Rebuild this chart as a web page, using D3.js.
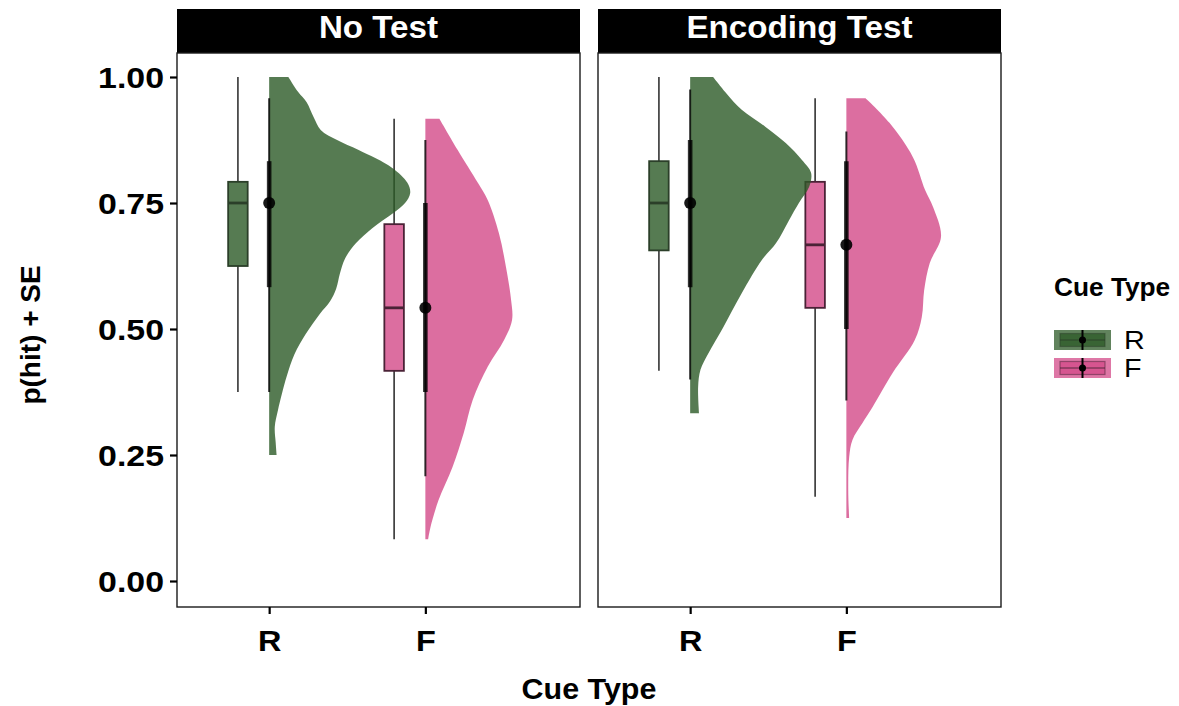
<!DOCTYPE html>
<html>
<head>
<meta charset="utf-8">
<script src="https://cdn.jsdelivr.net/npm/d3@7"></script>
<style>
  html, body { margin: 0; padding: 0; background: #fff; }
  svg { display: block; font-family: "Liberation Sans", Arial, sans-serif; }
</style>
</head>
<body>
<svg id="chart" width="1179" height="706"></svg>
<script>
// ---------------- DATA ----------------
const conditions = ["No Test", "Encoding Test"];
const cueTypes = ["R", "F"];
const yTicks = [0, 0.25, 0.5, 0.75, 1.0];
const yTickLabels = ["0.00", "0.25", "0.50", "0.75", "1.00"];

// order of groups: [No Test R, No Test F, Encoding Test R, Encoding Test F]
const groupCondition = ["No Test", "No Test", "Encoding Test", "Encoding Test"];
const groupCue = ["R", "F", "R", "F"];

const boxMin    = [0.375, 0.083, 0.417, 0.167];
const boxQ1     = [0.625, 0.417, 0.656, 0.542];
const boxMedian = [0.750, 0.542, 0.750, 0.667];
const boxQ3     = [0.792, 0.708, 0.833, 0.792];
const boxMax    = [1.000, 0.917, 1.000, 0.958];

const meanVals = [0.750, 0.542, 0.750, 0.667];
const seLow    = [0.583, 0.375, 0.583, 0.500];
const seHigh   = [0.833, 0.750, 0.875, 0.833];
const ciLow    = [0.375, 0.208, 0.400, 0.358];
const ciHigh   = [0.958, 0.875, 0.975, 0.892];

// half-violin densities: [value, density]
const densityNoTestR = [
  [1.000,0.41],[0.970,0.62],[0.950,0.80],[0.920,0.95],[0.895,1.10],[0.875,1.45],
  [0.855,1.91],[0.820,2.62],[0.790,2.95],[0.770,3.01],[0.750,2.90],[0.730,2.65],
  [0.700,2.20],[0.670,1.85],[0.640,1.62],[0.610,1.51],[0.580,1.43],[0.555,1.30],
  [0.530,1.08],[0.490,0.78],[0.450,0.54],[0.405,0.37],[0.340,0.19],[0.306,0.12],
  [0.274,0.14],[0.250,0.16]
];
const densityNoTestF = [
  [0.917,0.30],[0.855,0.69],[0.790,1.12],[0.756,1.33],[0.690,1.57],[0.623,1.72],
  [0.557,1.83],[0.518,1.85],[0.478,1.68],[0.425,1.33],[0.359,1.01],[0.294,0.82],
  [0.226,0.58],[0.160,0.28],[0.107,0.11],[0.083,0.06]
];
const densityEncodingR = [
  [1.000,0.49],[0.968,0.77],[0.935,1.10],[0.901,1.61],[0.869,2.04],[0.835,2.39],
  [0.810,2.58],[0.782,2.54],[0.750,2.32],[0.716,2.11],[0.670,1.83],[0.637,1.53],
  [0.571,1.10],[0.504,0.71],[0.452,0.39],[0.419,0.22],[0.385,0.17],[0.333,0.19]
];
const densityEncodingF = [
  [0.958,0.41],[0.909,0.92],[0.841,1.42],[0.776,1.68],[0.742,1.85],[0.683,2.02],
  [0.631,1.78],[0.577,1.66],[0.524,1.61],[0.478,1.46],[0.413,0.99],[0.345,0.56],
  [0.313,0.34],[0.280,0.13],[0.246,0.06],[0.180,0.04],[0.125,0.06]
];
const densities = [densityNoTestR, densityNoTestF, densityEncodingR, densityEncodingF];

// ---------------- STYLE / LAYOUT ----------------
const fillColor = { R: "#2c5a27", F: "#d34a88" };
const boxStroke = { R: "#2b3f29", F: "#4a2236" };
const alpha = 0.8;

const svg = d3.select("#chart");
const panelTop = 53, panelBottom = 607, stripTop = 9;
const panelX = { "No Test": [177, 580], "Encoding Test": [598, 1001] };
const cueIndex = { R: 1, F: 2 };

const y = d3.scaleLinear().domain([0, 1]).range([581, 77]);
const xScales = {};
conditions.forEach(c => {
  xScales[c] = d3.scaleLinear().domain([0.41, 2.99]).range(panelX[c]);
});

const boxOffset = -0.2, boxHalf = 0.0625, densScale = 0.3;

// widen glyphs horizontally (reference font renders wider)
function stretch(sel, k) {
  sel.each(function () {
    const w = this.getComputedTextLength();
    d3.select(this).attr("textLength", w * k).attr("lengthAdjust", "spacingAndGlyphs");
  });
}

// panels
conditions.forEach(c => {
  const [x0, x1] = panelX[c];
  const g = svg.append("g");
  g.append("rect").attr("x", x0).attr("y", stripTop).attr("width", x1 - x0)
    .attr("height", panelTop - stripTop).attr("fill", "#000");
  const st = g.append("text").attr("x", (x0 + x1) / 2).attr("y", 38)
    .attr("text-anchor", "middle").attr("fill", "#fff")
    .attr("font-weight", "bold").attr("font-size", 31).text(c);
  stretch(st, 1.07);
  g.append("rect").attr("x", x0).attr("y", panelTop).attr("width", x1 - x0)
    .attr("height", panelBottom - panelTop).attr("fill", "#fff")
    .attr("stroke", "#1a1a1a").attr("stroke-width", 1.4);

  // x axis
  const xa = d3.axisBottom(xScales[c])
    .tickValues(cueTypes.map(k => cueIndex[k]))
    .tickFormat((d, i) => cueTypes[i]).tickSize(7).tickPadding(8);
  const ax = svg.append("g").attr("transform", `translate(0,${panelBottom})`).call(xa);
  ax.select(".domain").remove();
  ax.selectAll("line").attr("stroke", "#000").attr("stroke-width", 2.2);
  const tx = ax.selectAll("text").attr("font-size", 30).attr("font-weight", "bold")
    .attr("fill", "#000").attr("font-family", "Liberation Sans, Arial, sans-serif")
    .attr("dy", "0.95em");
  stretch(tx, 1.08);
});

// y axis
const ya = d3.axisLeft(y).tickValues(yTicks).tickFormat((d, i) => yTickLabels[i])
  .tickSize(7).tickPadding(6);
const ay = svg.append("g").attr("transform", `translate(177,0)`).call(ya);
ay.select(".domain").remove();
ay.selectAll("line").attr("stroke", "#000").attr("stroke-width", 2.2);
const ytx = ay.selectAll("text").attr("font-size", 30).attr("font-weight", "bold").attr("fill", "#000")
  .attr("font-family", "Liberation Sans, Arial, sans-serif").attr("dy", "0.36em");
stretch(ytx, 1.13);

// ---------------- MARKS ----------------
const marks = svg.append("g");

// boxplots
groupCue.forEach((cue, i) => {
  const xs = xScales[groupCondition[i]];
  const pos = cueIndex[cue] + boxOffset;
  const cx = xs(pos), bl = xs(pos - boxHalf), br = xs(pos + boxHalf);
  const g = marks.append("g");
  g.append("line").attr("x1", cx).attr("x2", cx).attr("y1", y(boxMax[i])).attr("y2", y(boxQ3[i]))
    .attr("stroke", "#333").attr("stroke-width", 1.6);
  g.append("line").attr("x1", cx).attr("x2", cx).attr("y1", y(boxQ1[i])).attr("y2", y(boxMin[i]))
    .attr("stroke", "#333").attr("stroke-width", 1.6);
  g.append("rect").attr("x", bl).attr("y", y(boxQ3[i])).attr("width", br - bl)
    .attr("height", y(boxQ1[i]) - y(boxQ3[i]))
    .attr("fill", fillColor[cue]).attr("fill-opacity", alpha)
    .attr("stroke", boxStroke[cue]).attr("stroke-width", 1.8);
  g.append("line").attr("x1", bl).attr("x2", br).attr("y1", y(boxMedian[i])).attr("y2", y(boxMedian[i]))
    .attr("stroke", boxStroke[cue]).attr("stroke-width", 2.8);
});

// half violins
groupCue.forEach((cue, i) => {
  const xs = xScales[groupCondition[i]];
  const pos = cueIndex[cue];
  const area = d3.area()
    .y(d => y(d[0]))
    .x0(xs(pos))
    .x1(d => xs(pos + d[1] * densScale))
    .curve(d3.curveCatmullRom.alpha(0.5));
  marks.append("path").datum(densities[i]).attr("d", area)
    .attr("fill", fillColor[cue]).attr("fill-opacity", alpha);
});

// mean +- SE / CI pointranges
groupCue.forEach((cue, i) => {
  const xs = xScales[groupCondition[i]];
  const cx = xs(cueIndex[cue]);
  marks.append("line").attr("x1", cx).attr("x2", cx).attr("y1", y(ciHigh[i])).attr("y2", y(ciLow[i]))
    .attr("stroke", "#000").attr("stroke-opacity", 0.8).attr("stroke-width", 2);
  marks.append("line").attr("x1", cx).attr("x2", cx).attr("y1", y(seHigh[i])).attr("y2", y(seLow[i]))
    .attr("stroke", "#000").attr("stroke-opacity", 0.8).attr("stroke-width", 4.6);
  marks.append("circle").attr("cx", cx).attr("cy", y(meanVals[i])).attr("r", 6)
    .attr("fill", "#000").attr("fill-opacity", 0.9);
});

// ---------------- TITLES ----------------
const xt = svg.append("text").attr("x", 589).attr("y", 699).attr("text-anchor", "middle")
  .attr("font-size", 29).attr("font-weight", "bold").text("Cue Type");
stretch(xt, 1.05);
svg.append("text").attr("transform", "translate(40,335) rotate(-90)")
  .attr("text-anchor", "middle").attr("font-size", 28).attr("font-weight", "bold")
  .text("p(hit) + SE");

// ---------------- LEGEND ----------------
const lg = svg.append("g");
const lt = lg.append("text").attr("x", 1054).attr("y", 296).attr("font-size", 25)
  .attr("font-weight", "bold").text("Cue Type");
stretch(lt, 1.05);
cueTypes.forEach((cue, i) => {
  const ky = 330 + i * 28;
  const kx = 1054, kw = 57, kh = 20;
  lg.append("rect").attr("x", kx).attr("y", ky).attr("width", kw).attr("height", kh)
    .attr("fill", fillColor[cue]).attr("fill-opacity", 0.75);
  lg.append("rect").attr("x", kx + 6).attr("y", ky + 3.5).attr("width", kw - 12).attr("height", kh - 7)
    .attr("fill", fillColor[cue]).attr("fill-opacity", 0.75)
    .attr("stroke", boxStroke[cue]).attr("stroke-opacity", 0.5).attr("stroke-width", 1.2);
  lg.append("line").attr("x1", kx + 6).attr("x2", kx + kw - 6).attr("y1", ky + kh / 2).attr("y2", ky + kh / 2)
    .attr("stroke", boxStroke[cue]).attr("stroke-opacity", 0.6).attr("stroke-width", 1.4);
  lg.append("line").attr("x1", kx + kw / 2).attr("x2", kx + kw / 2).attr("y1", ky).attr("y2", ky + kh)
    .attr("stroke", "#000").attr("stroke-width", 2);
  lg.append("circle").attr("cx", kx + kw / 2).attr("cy", ky + kh / 2).attr("r", 3.5).attr("fill", "#000");
  const tl = lg.append("text").attr("x", 1124).attr("y", ky + kh / 2 + 9).attr("font-size", 25).text(cue);
  stretch(tl, 1.15);
});
</script>
</body>
</html>
